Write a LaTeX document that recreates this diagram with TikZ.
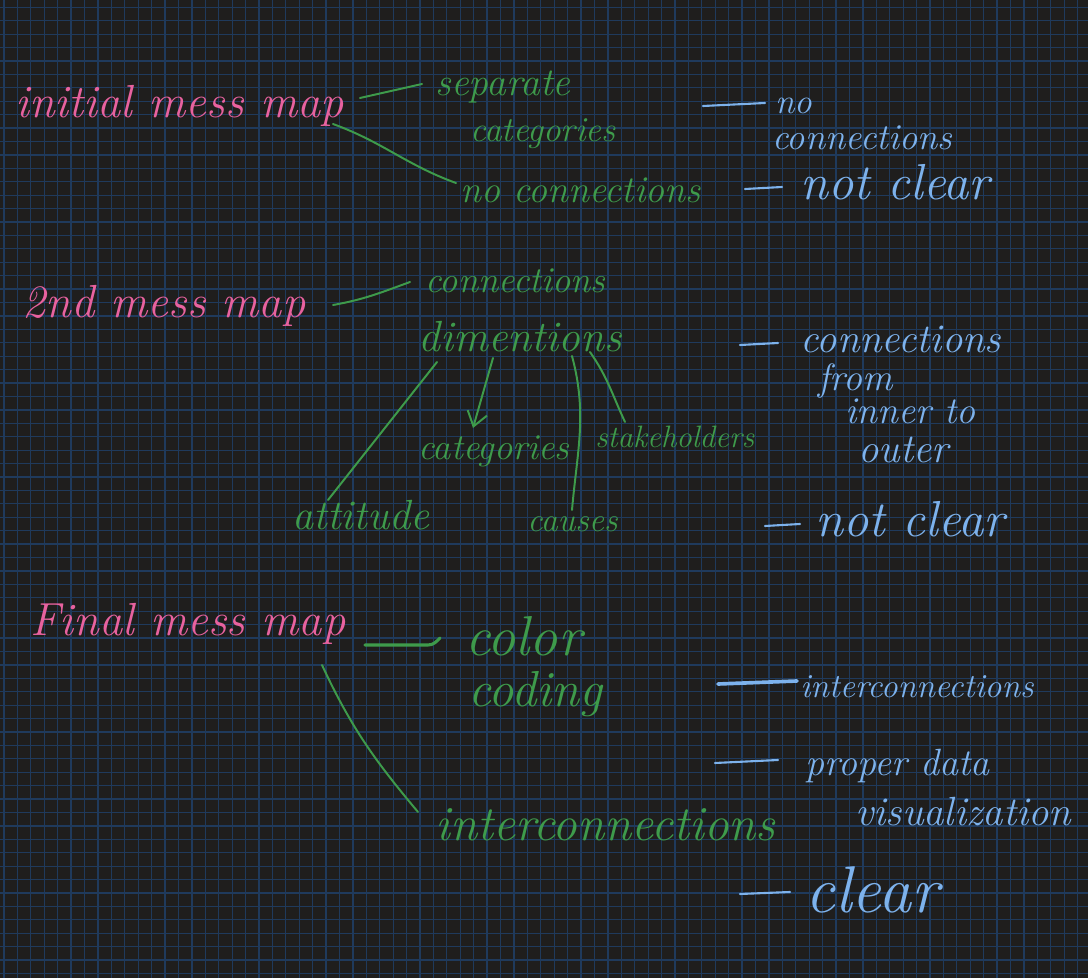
\documentclass[tikz,border=0pt]{standalone}
\usepackage{fontspec}
\usetikzlibrary{arrows.meta,calc}
\definecolor{mmpaper}{HTML}{1F1E1D}
\definecolor{mmgrid}{HTML}{1F3A5C}
\definecolor{mmpink}{HTML}{E8629F}
\definecolor{mmgreen}{HTML}{3E9B4B}
\definecolor{mmblue}{HTML}{7DB2EC}
\tikzset{
  mmhand/.style={font=\fontsize{#1}{#1}\selectfont\itshape, inner sep=0pt, anchor=base west},
  mmpinktext/.style={mmhand=33, text=mmpink},
  mmgreentext/.style={mmhand=#1, text=mmgreen},
  mmbluetext/.style={mmhand=#1, text=mmblue},
  mmline/.style={draw=mmgreen, line width=1.4pt, line cap=round},
  mmarrow/.style={mmline, -{Straight Barb[length=3.5mm, width=5mm]}},
  mmdash/.style={draw=mmblue, line width=1.5pt, line cap=round},
}

\begin{document}
\begin{tikzpicture}[x=0.025cm, y=-0.025cm]
  % paper and grid
  \fill[mmpaper] (0,0) rectangle (1088,978);
  \useasboundingbox (0,0) rectangle (1088,978);
  \foreach \gx in {4,17.42,...,1088} \draw[mmgrid, line width=0.9pt] (\gx,0) -- (\gx,978);
  \foreach \gy in {7.3,20.72,...,978} \draw[mmgrid, line width=0.9pt] (0,\gy) -- (1088,\gy);

  % initial mess map
  \node[mmpinktext] (imm) at (15,118) {initial mess map};
  \node[mmgreentext=28] (sep) at (435,96) {separate};
  \node[mmgreentext=25] (cat1) at (470,142) {categories};
  \node[mmgreentext=27] (nc) at (460,203) {no connections};
  \node[mmbluetext=25] (bno) at (775,114) {no};
  \node[mmbluetext=26] (bcn) at (772,150) {connections};
  \node[mmbluetext=36] (bnc1) at (800,200) {not clear};

  % 2nd mess map
  \node[mmpinktext] (snd) at (22,318) {2nd mess map};
  \node[mmgreentext=26] (con) at (425,293) {connections};
  \node[mmgreentext=31] (dim) at (418,352) {dimentions};
  \node[mmgreentext=26] (cat2) at (418,460) {categories};
  \node[mmgreentext=22] (stk) at (595,448) {stakeholders};
  \node[mmgreentext=30] (att) at (292,530) {attitude};
  \node[mmgreentext=24] (cau) at (527,532) {causes};
  \node[mmbluetext=29] (bcon) at (800,353) {connections};
  \node[mmbluetext=27] (bfrom) at (818,391) {from};
  \node[mmbluetext=27] (binn) at (845,424) {inner to};
  \node[mmbluetext=29] (bout) at (858,463) {outer};
  \node[mmbluetext=36] (bnc2) at (815,537) {not clear};

  % final mess map
  \node[mmpinktext] (fmm) at (30,635) {Final mess map};
  \node[mmgreentext=40] (col) at (465,656) {color};
  \node[mmgreentext=36] (cod) at (468,706) {coding};
  \node[mmgreentext=35] (int) at (435,840) {interconnections};
  \node[mmbluetext=24] (bint) at (800,697) {interconnections};
  \node[mmbluetext=27] (bpro) at (805,775) {proper data};
  \node[mmbluetext=29] (bvis) at (855,825) {visualization};
  \node[mmbluetext=47] (bclr) at (805,912) {clear};

  % green connectors
  \draw[mmline] ($(imm.base west)+(345,-20)$) -- ($(sep.base west)+(-13,-12)$);
  \draw[mmline] ($(imm.base west)+(318,6)$) to[out=-20, in=160] ($(nc.base west)+(-4,-20)$);
  \draw[mmline] ($(snd.base west)+(311,-13)$) to[out=10, in=200] ($(con.base west)+(-15,-11)$);
  \draw[mmline] ($(dim.base west)+(19,10)$) -- ($(att.base west)+(36,-30)$);
  \draw[mmarrow] ($(dim.base west)+(75,6)$) -- ($(cat2.base west)+(55,-32)$);
  \draw[mmline] ($(dim.base west)+(154,4)$) to[out=-75, in=85] ($(cau.base west)+(45,-22)$);
  \draw[mmline] ($(dim.base west)+(172,0)$) to[out=-55, in=115] ($(stk.base west)+(30,-26)$);
  \draw[mmline, line width=2.2pt] ($(fmm.base west)+(335,10)$) -- ($(col.base west)+(-37,-11)$)
    to[out=0, in=-135] ($(col.base west)+(-25,-18)$);
  \draw[mmline] ($(fmm.base west)+(292,30)$) to[out=-65, in=130] ($(int.base west)+(-17,-28)$);

  % blue dashes
  \draw[mmdash] ($(bno.base west)+(-72,-8)$) -- ($(bno.base west)+(-10,-11)$);
  \draw[mmdash] ($(bnc1.base west)+(-55,-11)$) -- ($(bnc1.base west)+(-18,-13)$);
  \draw[mmdash] ($(bcon.base west)+(-60,-8)$) -- ($(bcon.base west)+(-22,-10)$);
  \draw[mmdash] ($(bnc2.base west)+(-50,-11)$) -- ($(bnc2.base west)+(-15,-13)$);
  \draw[mmdash, line width=2.6pt] ($(bint.base west)+(-82,-13)$) -- ($(bint.base west)+(-3,-16)$);
  \draw[mmdash] ($(bpro.base west)+(-90,-12)$) -- ($(bpro.base west)+(-27,-15)$);
  \draw[mmdash] ($(bclr.base west)+(-65,-18)$) -- ($(bclr.base west)+(-15,-20)$);
\end{tikzpicture}
\end{document}
